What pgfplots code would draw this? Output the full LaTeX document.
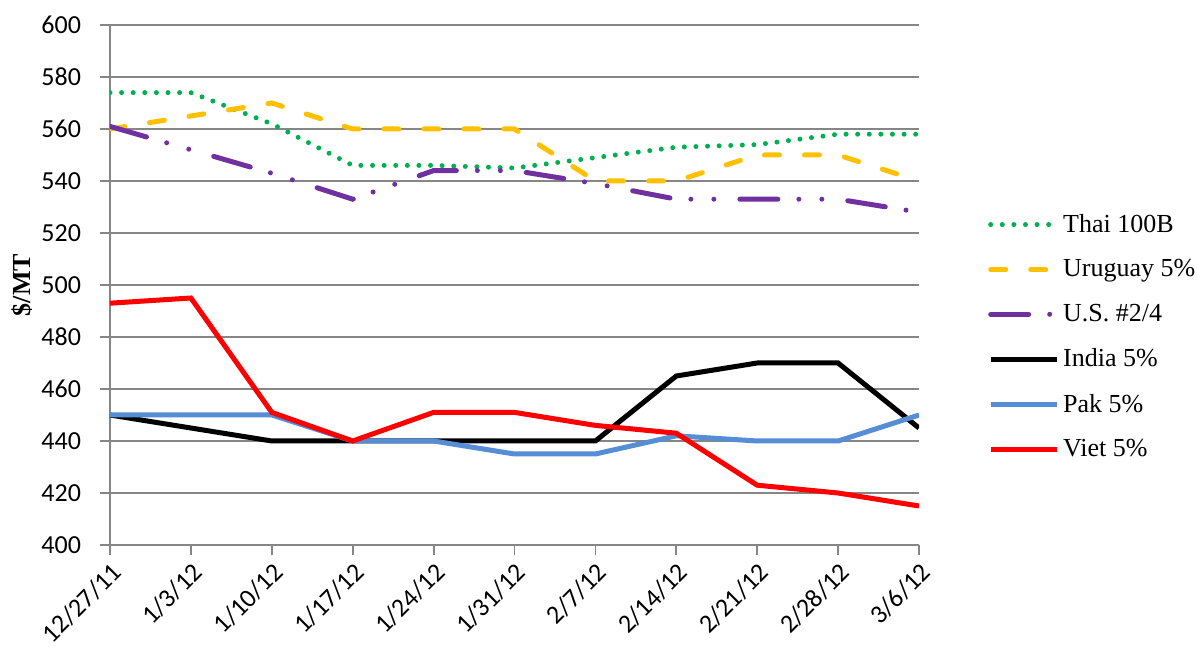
\documentclass[border=0pt]{standalone}
\usepackage{pgfplots}
\pgfplotsset{compat=1.18}
\usepackage{fontspec}
\setmainfont{Liberation Serif}
\newfontfamily\calibri{Carlito}
\definecolor{cgreen}{HTML}{00B050}
\definecolor{cyellow}{HTML}{FFC000}
\definecolor{cpurple}{HTML}{7030A0}
\definecolor{cblue}{HTML}{558ED5}
\definecolor{cred}{HTML}{FF0000}
\definecolor{cgrid}{HTML}{868686}
\begin{document}
\begin{tikzpicture}
\begin{axis}[
  scale only axis, width=404.5pt, height=260pt,
  xmin=0, xmax=10, ymin=400, ymax=600,
  xtick={0,...,10},
  xticklabels={12/27/11,1/3/12,1/10/12,1/17/12,1/24/12,1/31/12,2/7/12,2/14/12,2/21/12,2/28/12,3/6/12},
  ytick={400,420,...,600},
  axis x line=bottom, axis y line=left,
  axis line style={cgrid, line width=0.9pt, -},
  tick style={cgrid, line width=0.9pt},
  tick align=outside, major tick length=5pt,
  ymajorgrids, grid style={cgrid, line width=0.8pt},
  tick label style={font=\calibri\fontsize{13}{15}\selectfont, black},
  /pgf/number format/assume math mode=true,
  xticklabel style={rotate=45, anchor=north east, inner sep=2pt},
  yticklabel style={xshift=-6pt},
  ylabel={\textbf{\$/MT}},
  ylabel style={at={(axis description cs:-0.109,0.5)}, anchor=center, font=\fontsize{13}{15}\selectfont},
  legend style={draw=none, at={(1.085,0.4)}, anchor=west, font=\fontsize{13}{15}\selectfont, row sep=8.2pt, inner sep=0pt},
  legend cell align=left,
  legend image code/.code={\draw[#1] (0pt,0pt) -- (33pt,0pt);},
  every axis plot/.append style={line width=2.5pt},
]
\addplot[cgreen, line cap=round, dash pattern=on 0pt off 5.8pt] coordinates {(0,574)(1,574)(2,562)(3,546)(4,546)(5,545)(6,549)(7,553)(8,554)(9,558)(10,558)};
\addlegendentry{Thai 100B}
\addplot[cyellow, line cap=round, dash pattern=on 7.5pt off 12.5pt] coordinates {(0,560)(1,565)(2,570)(3,560)(4,560)(5,560)(6,540)(7,540)(8,550)(9,550)(10,540)};
\addlegendentry{Uruguay 5\%}
\addplot[cpurple, line cap=round, dash pattern=on 19pt off 10.5pt on 0pt off 11.5pt on 0pt off 13pt] coordinates {(0,561)(1,552)(2,543)(3,533)(4,544)(5,544)(6,539)(7,533)(8,533)(9,533)(10,528)};
\addlegendentry{U.S. \#2/4}
\addplot[black] coordinates {(0,450)(1,445)(2,440)(3,440)(4,440)(5,440)(6,440)(7,465)(8,470)(9,470)(10,445)};
\addlegendentry{India 5\%}
\addplot[cblue] coordinates {(0,450)(1,450)(2,450)(3,440)(4,440)(5,435)(6,435)(7,442)(8,440)(9,440)(10,450)};
\addlegendentry{Pak 5\%}
\addplot[cred] coordinates {(0,493)(1,495)(2,451)(3,440)(4,451)(5,451)(6,446)(7,443)(8,423)(9,420)(10,415)};
\addlegendentry{Viet 5\%}
\end{axis}
\pgfresetboundingbox
\useasboundingbox (-55pt,-51pt) rectangle (544pt,272.5pt);
\end{tikzpicture}
\end{document}
